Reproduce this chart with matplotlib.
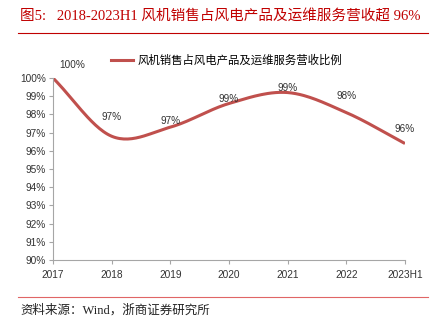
import numpy as np
import matplotlib.pyplot as plt
from matplotlib.lines import Line2D

# data
years = ['2017', '2018', '2019', '2020', '2021', '2022', '2023H1']
share = [100.0, 96.8, 97.3, 98.6, 99.2, 98.1, 96.4]
labels = ['100%', '97%', '97%', '99%', '99%', '98%', '96%']
series_name = '风机销售占风电产品及运维服务营收比例'

title_red = '#C00000'
line_red = '#C0504D'
cjk = ['Liberation Serif', 'Noto Sans CJK SC']
sans = ['Liberation Sans', 'Noto Sans CJK SC']


def smooth(x, y, n=30):
    # excel-like smoothed line (catmull-rom through the points)
    x = np.asarray(x, float)
    y = np.asarray(y, float)
    px = np.concatenate([[2 * x[0] - x[1]], x, [2 * x[-1] - x[-2]]])
    py = np.concatenate([[2 * y[0] - y[1]], y, [2 * y[-1] - y[-2]]])
    xs, ys = [], []
    t = np.linspace(0, 1, n)
    for i in range(1, len(px) - 2):
        p0, p1, p2, p3 = [np.array([px[j], py[j]]) for j in range(i - 1, i + 3)]
        c1 = p1 + (p2 - p0) / 6
        c2 = p2 - (p3 - p1) / 6
        pts = ((1 - t) ** 3)[:, None] * p1 + (3 * (1 - t) ** 2 * t)[:, None] * c1 \
            + (3 * (1 - t) * t ** 2)[:, None] * c2 + (t ** 3)[:, None] * p2
        xs.extend(pts[:, 0])
        ys.extend(pts[:, 1])
    return xs, ys


fig = plt.figure(figsize=(4.43, 3.28), dpi=100)
ax = fig.add_axes([53 / 443, 1 - 260 / 328, (405 - 53) / 443, (260 - 78) / 328])

xi = np.arange(len(years))
sx, sy = smooth(xi, share)
ax.plot(sx, sy, color=line_red, lw=2.2, solid_capstyle='butt')

# label offsets in points (centre of text relative to point)
label_dx = [14, 0, 0, 0, 0, 0, 0]
label_dy = [9.5, 13.5, 4.5, 3, 3, 12, 10.5]
for i, (v, lab) in enumerate(zip(share, labels)):
    ax.annotate(lab, (xi[i], v), xytext=(label_dx[i], label_dy[i]),
                textcoords='offset points', ha='center', va='center',
                fontsize=7.2, family=sans, color='#333333', annotation_clip=False)

ax.set_xlim(0, len(years) - 1)
ax.set_ylim(90, 100)
ax.set_xticks(xi)
ax.set_xticklabels(years)
ax.set_yticks(np.arange(90, 101, 1))
ax.set_yticklabels([f'{v}%' for v in range(90, 101)])
for s in ['top', 'right']:
    ax.spines[s].set_visible(False)
for s in ['left', 'bottom']:
    ax.spines[s].set_color('#A6A6A6')
    ax.spines[s].set_linewidth(0.8)
ax.tick_params(axis='both', colors='#A6A6A6', length=3, width=0.8, direction='out')
ax.tick_params(axis='x', pad=4)
ax.tick_params(axis='y', pad=2)
for t in ax.get_xticklabels() + ax.get_yticklabels():
    t.set_color('#333333')
    t.set_fontsize(7.3)
    t.set_family(sans)

handle = Line2D([], [], color=line_red, lw=2.2)
fig.legend([handle], [series_name], loc='center left',
           bbox_to_anchor=(106 / 443, 1 - 60 / 328), frameon=False,
           prop={'family': sans, 'size': 8.2}, handlelength=2.0,
           handletextpad=0.4, borderaxespad=0)

# header and footer
fig.text(20 / 443, 1 - 17 / 328, '图5:   2018-2023H1 风机销售占风电产品及运维服务营收超 96%',
         family=cjk, fontsize=10.5, color=title_red, va='center', ha='left')
fig.add_artist(Line2D([18 / 443, 428 / 443], [1 - 33 / 328] * 2, color=title_red, lw=0.8))
fig.add_artist(Line2D([18 / 443, 428 / 443], [1 - 297 / 328] * 2, color='#E06666', lw=0.8))
fig.text(20 / 443, 1 - 310 / 328, '资料来源：Wind，浙商证券研究所',
         family=cjk, fontsize=9, color='#222222', va='center', ha='left')

fig.savefig('out.png', dpi=100, facecolor='white')
